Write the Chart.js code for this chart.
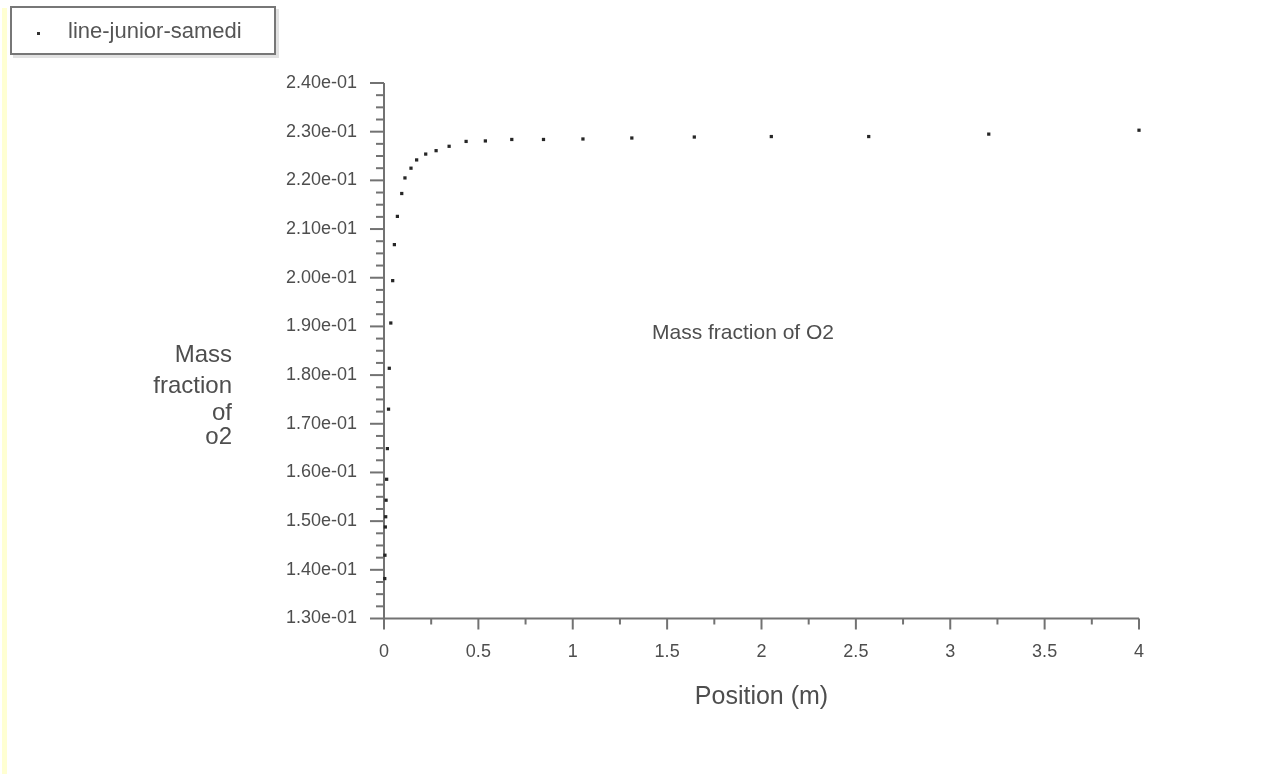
<!DOCTYPE html>
<html>
<head>
<meta charset="utf-8">
<script src="https://cdn.jsdelivr.net/npm/chart.js@4.4.1/dist/chart.umd.min.js"></script>
<style>
  body { margin: 0; background: #fff; }
  #wrap { position: relative; width: 1261px; height: 774px; overflow: hidden; }
  #chart { position: absolute; left: 0; top: 0; }
  .strip { position: absolute; left: 2px; top: 8px; width: 5px; height: 766px; background: #ffffd2; }
  .legend {
    position: absolute; left: 10px; top: 6px; width: 262px; height: 45px;
    border: 2px solid #777; box-shadow: 3px 3px 0 #e2e2e2; background: #fff;
    font: 22px "Liberation Sans", Arial, sans-serif; color: #555;
  }
  .legend .mark { position: absolute; left: 25px; top: 24px; width: 3px; height: 3px; background: #333; }
  .legend .txt { position: absolute; left: 56px; top: 10px; white-space: nowrap; }
</style>
</head>
<body>
<div id="wrap">
  <div class="strip"></div>
  <canvas id="chart" width="1261" height="774"></canvas>
  <div class="legend"><span class="mark"></span><span class="txt" id="legendText"></span></div>
</div>
<script>
const seriesName = 'line-junior-samedi';

// position along the line (m)
const positions = [
  0.004, 0.005, 0.007, 0.009, 0.011, 0.014, 0.018, 0.024, 0.028, 0.036,
  0.046, 0.055, 0.071, 0.094, 0.111, 0.143, 0.173, 0.221, 0.276, 0.345,
  0.435, 0.537, 0.677, 0.845, 1.054, 1.313, 1.644, 2.052, 2.568, 3.204, 4.0
];

// mass fraction of O2
const o2Fraction = [
  0.1382, 0.1430, 0.1488, 0.1509, 0.1543, 0.1586, 0.1649, 0.1730, 0.1814, 0.1907,
  0.1994, 0.2068, 0.2126, 0.2173, 0.2205, 0.2225, 0.2242, 0.2254, 0.2261, 0.2270,
  0.2280, 0.2281, 0.2284, 0.2284, 0.2285, 0.2287, 0.2289, 0.2290, 0.2290, 0.2295, 0.2303
];

const xTicks = [0, 0.5, 1, 1.5, 2, 2.5, 3, 3.5, 4];
const xTickLabels = ['0', '0.5', '1', '1.5', '2', '2.5', '3', '3.5', '4'];
const yTicks = [0.13, 0.14, 0.15, 0.16, 0.17, 0.18, 0.19, 0.20, 0.21, 0.22, 0.23, 0.24];

const xTitle = 'Position (m)';
const yTitleLines = ['Mass', 'fraction', 'of', 'o2'];
const plotLabel = 'Mass fraction of O2';

document.getElementById('legendText').textContent = seriesName;

const FONT = '"Liberation Sans", Arial, sans-serif';
const AXIS = '#727272';
const TEXT = '#4e4e4e';

const fmtExp = v => v.toExponential(2).replace(/e([+-])(\d)$/, 'e$10$2');

// axis lines + major/minor tick marks, drawn from the scales
const axisTicks = {
  id: 'axisTicks',
  beforeDatasetsDraw(chart) {
    const { ctx, scales: { x, y } } = chart;
    const x0 = x.getPixelForValue(0);
    const y0 = y.getPixelForValue(0.13);
    ctx.save();
    ctx.strokeStyle = AXIS;
    ctx.lineWidth = 2;
    ctx.beginPath();
    ctx.moveTo(x0, y.getPixelForValue(0.24));
    ctx.lineTo(x0, y0);
    ctx.lineTo(x.getPixelForValue(4), y0);
    ctx.stroke();

    for (let i = 0; i <= 44; i++) {
      const py = y.getPixelForValue(0.13 + i * 0.0025);
      const len = i % 4 === 0 ? 14 : 8;
      ctx.beginPath();
      ctx.moveTo(x0 - len, py);
      ctx.lineTo(x0, py);
      ctx.stroke();
    }
    for (let i = 0; i <= 16; i++) {
      const px = x.getPixelForValue(i * 0.25);
      const len = i % 2 === 0 ? 11 : 6;
      ctx.beginPath();
      ctx.moveTo(px, y0);
      ctx.lineTo(px, y0 + len);
      ctx.stroke();
    }
    ctx.restore();
  },
  afterDraw(chart) {
    const { ctx } = chart;
    ctx.save();
    ctx.fillStyle = TEXT;
    ctx.textAlign = 'right';
    ctx.textBaseline = 'alphabetic';
    ctx.font = '24px ' + FONT;
    const baselines = [362, 393, 420, 444];
    yTitleLines.forEach((t, i) => ctx.fillText(t, 232, baselines[i]));

    ctx.textAlign = 'center';
    ctx.textBaseline = 'middle';
    ctx.font = '21px ' + FONT;
    ctx.fillText(plotLabel, 743, 333);
    ctx.restore();
  }
};

const ctx = document.getElementById('chart').getContext('2d');
new Chart(ctx, {
  type: 'scatter',
  data: {
    datasets: [{
      label: seriesName,
      data: positions.map((p, i) => ({ x: p, y: o2Fraction[i] })),
      pointStyle: 'rect',
      pointRadius: 2.3,
      pointBorderWidth: 0,
      backgroundColor: '#262626',
      borderColor: '#262626',
      showLine: false,
      clip: false
    }]
  },
  options: {
    responsive: false,
    animation: false,
    devicePixelRatio: 1,
    layout: { padding: { left: 0, top: 83, right: 122, bottom: 0 } },
    plugins: { legend: { display: false }, tooltip: { enabled: false } },
    scales: {
      x: {
        type: 'linear',
        min: 0,
        max: 4,
        afterFit: s => { s.height = 155.5; },
        afterBuildTicks: s => { s.ticks = xTicks.map(v => ({ value: v })); },
        grid: { display: false, drawTicks: false },
        border: { display: false },
        ticks: {
          padding: 23,
          maxRotation: 0,
          autoSkip: false,
          color: TEXT,
          font: { family: FONT, size: 18 },
          callback: (v, i) => xTickLabels[i]
        },
        title: {
          display: true,
          text: xTitle,
          color: TEXT,
          font: { family: FONT, size: 25 },
          padding: { top: 0, bottom: 62 }
        }
      },
      y: {
        type: 'linear',
        min: 0.13,
        max: 0.24,
        afterFit: s => { s.width = 384; },
        afterBuildTicks: s => { s.ticks = yTicks.map(v => ({ value: v })); },
        grid: { display: false, drawTicks: false },
        border: { display: false },
        ticks: {
          padding: 27,
          autoSkip: false,
          color: TEXT,
          font: { family: FONT, size: 18 },
          callback: v => fmtExp(v)
        }
      }
    }
  },
  plugins: [axisTicks]
});
</script>
</body>
</html>
